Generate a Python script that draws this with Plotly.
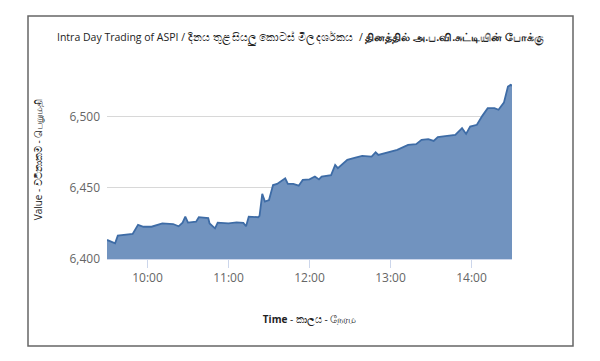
import plotly.graph_objects as go

times = ["09:30", "09:34", "09:36", "09:38", "09:49", "09:53", "09:57", "10:03", "10:11", "10:19",
         "10:23", "10:26", "10:28", "10:30", "10:36", "10:38", "10:45", "10:46", "10:50", "10:52",
         "11:00", "11:06", "11:11", "11:13", "11:15", "11:22", "11:23", "11:25", "11:27", "11:30",
         "11:33", "11:36", "11:42", "11:44", "11:48", "11:52", "11:55", "12:00", "12:04", "12:07",
         "12:09", "12:16", "12:19", "12:21", "12:28", "12:34", "12:39", "12:46", "12:49", "12:51",
         "12:56", "13:05", "13:13", "13:19", "13:23", "13:28", "13:32", "13:35", "13:42", "13:48",
         "13:53", "13:54", "13:56", "13:59", "14:04", "14:08", "14:12", "14:17", "14:20", "14:24",
         "14:27", "14:29", "14:30"]
values = [6413.4, 6412.0, 6411.0, 6416.4, 6417.6, 6424.0, 6422.7, 6422.7, 6425.0, 6424.6,
          6423.0, 6425.6, 6429.8, 6425.6, 6426.3, 6429.4, 6428.7, 6425.0, 6421.6, 6425.6,
          6425.0, 6425.7, 6425.4, 6423.0, 6429.8, 6429.4, 6430.3, 6445.8, 6440.4, 6441.5,
          6452.0, 6452.8, 6456.8, 6452.8, 6452.8, 6451.6, 6455.6, 6456.0, 6458.0, 6456.0,
          6458.0, 6459.0, 6466.2, 6463.9, 6469.7, 6471.3, 6472.5, 6472.0, 6475.1, 6473.2,
          6474.4, 6476.8, 6480.3, 6480.8, 6483.8, 6484.3, 6483.1, 6485.7, 6486.6, 6487.3,
          6492.0, 6490.8, 6488.0, 6493.2, 6494.4, 6500.7, 6506.1, 6506.1, 6505.0, 6510.0,
          6521.3, 6522.5, 6522.0]

day = "2024-01-01 "
x = [day + t for t in times]

title_text = "Intra Day Trading of ASPI / දිනය තුළ සියලු කොටස් මිල දර්ශකය  / <b>தினத்தில் அ.ப.வி.சுட்டியின் போக்கு</b>"
y_title = "Value - වටිනාකම - பெறுமதி"
x_title = "<b>Time</b> - කාලය - நேரம"

fig = go.Figure()
fig.add_trace(go.Scatter(
    x=x, y=values, mode="lines", fill="tozeroy",
    line=dict(color="#3e6ca6", width=1.8),
    fillcolor="#7193bf", hoverinfo="skip", showlegend=False,
))

fig.update_layout(
    width=600, height=361,
    margin=dict(l=107, r=88, t=60, b=102),
    paper_bgcolor="white", plot_bgcolor="white",
    font=dict(family="Open Sans, Noto Sans, DejaVu Sans, sans-serif", color="#666"),
    xaxis=dict(
        type="date", range=[day + "09:30", day + "14:30"],
        tickformat="%H:%M", dtick=3600000, tick0=day + "10:00",
        showgrid=False, showline=True, linecolor="#ccd6eb", linewidth=1,
        ticks="outside", ticklen=8, tickcolor="#ccd6eb",
        tickfont=dict(size=12, color="#666"),
        title=dict(text=x_title, font=dict(size=10, color="#222"), standoff=30),
        fixedrange=True,
    ),
    yaxis=dict(
        range=[6400, 6540], tick0=6400, dtick=50, tickformat=",",
        showgrid=True, gridcolor="#d8d8d8", gridwidth=1, zeroline=False,
        tickfont=dict(size=12, color="#666"), ticks="", ticklabelstandoff=6,
        title=dict(text=y_title, font=dict(size=10, color="#222"), standoff=24),
        fixedrange=True,
    ),
    annotations=[dict(
        text=title_text, xref="paper", yref="paper",
        x=(300 - 107) / 405, y=(259 - 38) / 199, xanchor="center", yanchor="middle",
        showarrow=False, font=dict(size=10.5, color="#222"),
    )],
    shapes=[dict(
        type="rect", xref="paper", yref="paper",
        x0=(28 - 107) / 405, x1=(573 - 107) / 405,
        y0=(259 - 346) / 199, y1=(259 - 16) / 199,
        line=dict(color="#666", width=1.5), fillcolor="rgba(0,0,0,0)", layer="below",
    )],
)

fig.write_html("out.html")
